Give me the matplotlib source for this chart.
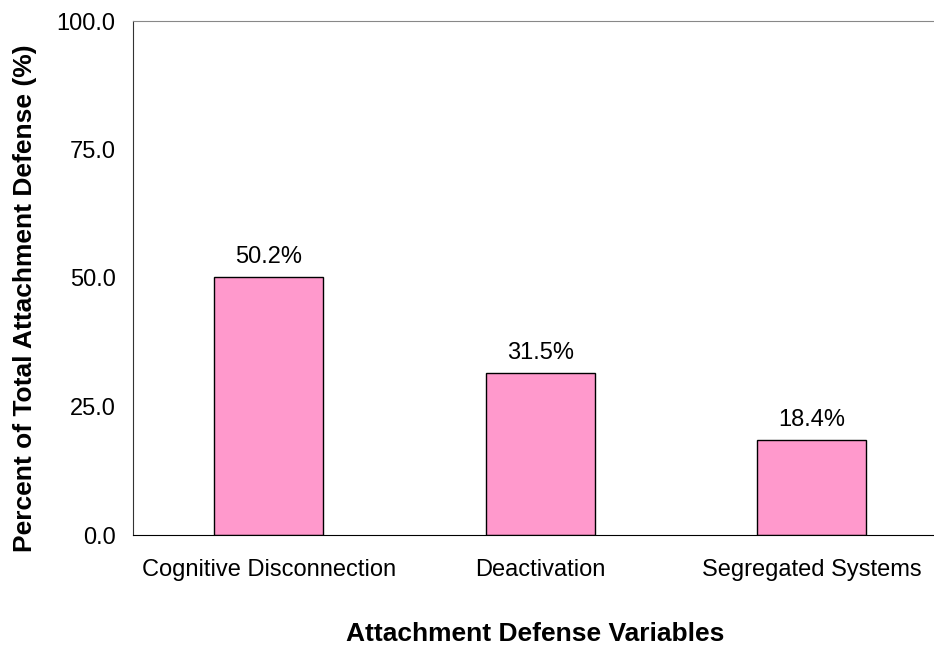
import matplotlib
matplotlib.use("Agg")
import matplotlib.pyplot as plt

categories = ["Cognitive Disconnection", "Deactivation", "Segregated Systems"]
values = [50.2, 31.5, 18.4]
yticks = [0.0, 25.0, 50.0, 75.0, 100.0]

plt.rcParams['font.family'] = ['Liberation Sans', 'DejaVu Sans']

W, H = 934, 651
fig = plt.figure(figsize=(W/100, H/100), dpi=100)
left, right, bottom, top = 133, 947.5, 535, 21
ax = fig.add_axes([left/W, 1-bottom/H, (right-left)/W, (bottom-top)/H])

x = range(len(categories))
ax.bar(x, values, width=0.4, color="#FF99CC", edgecolor="black", linewidth=1)
for xi, v in zip(x, values):
    ax.annotate(f"{v:.1f}%", (xi, v), xytext=(0, 6.5), textcoords="offset points",
                ha="center", va="bottom", fontsize=17)

ax.set_xlim(-0.5, 2.5)
ax.set_ylim(0, 100)
ax.set_yticks(yticks)
ax.set_yticklabels([f"{t:.1f}" for t in yticks], fontsize=17)
ax.set_xticks(list(x))
ax.set_xticklabels(categories, fontsize=17)
ax.tick_params(axis="both", length=0)
ax.tick_params(axis="x", pad=17)
ax.tick_params(axis="y", pad=12.5)

ax.spines["right"].set_visible(False)
ax.spines["top"].set_color("#888888")
ax.spines["left"].set_color("#333333")
ax.spines["bottom"].set_color("black")

fig.text(535/W, 1-634/H, "Attachment Defense Variables", ha="center", va="center",
         fontsize=19, fontweight="bold")
fig.text(25/W, 1-298/H, "Percent of Total Attachment Defense (%)", ha="center", va="center",
         rotation=90, fontsize=19, fontweight="bold")

fig.savefig("out.png", dpi=100)
